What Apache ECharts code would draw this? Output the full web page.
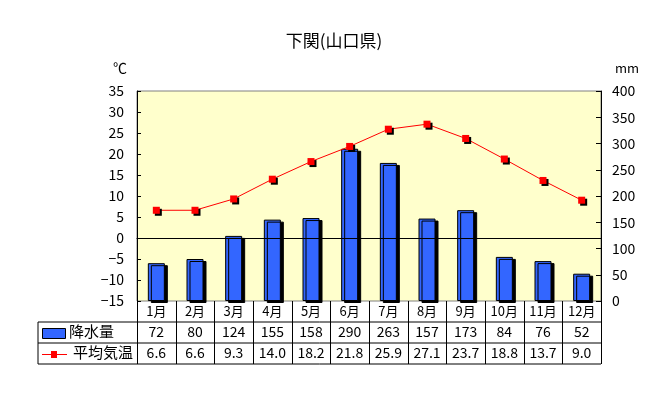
<!DOCTYPE html>
<html>
<head>
<meta charset="utf-8">
<script src="https://cdn.jsdelivr.net/npm/echarts@6/dist/echarts.min.js"></script>
<style>
  html, body { margin: 0; padding: 0; background: #fff; }
  #chart { width: 653px; height: 399px; }
</style>
</head>
<body>
<div id="chart"></div>
<script>
// data
const months = ['1月', '2月', '3月', '4月', '5月', '6月', '7月', '8月', '9月', '10月', '11月', '12月'];
const rain = [72, 80, 124, 155, 158, 290, 263, 157, 173, 84, 76, 52];
const temp = [6.6, 6.6, 9.3, 14.0, 18.2, 21.8, 25.9, 27.1, 23.7, 18.8, 13.7, 9.0];

const FONT = '"Noto Sans CJK JP", sans-serif';
const G = { left: 137, top: 91, width: 464, height: 210 };
const rowH = 21;
const tableLeft = 38;

const chart = echarts.init(document.getElementById('chart'));

const line = (x1, y1, x2, y2, color) => ({
  type: 'line', silent: true,
  shape: { x1: x1, y1: y1, x2: x2, y2: y2 },
  style: { stroke: color || '#000', lineWidth: 1 }
});

const bottom = G.top + G.height;
const right = G.left + G.width;

const catAxis = (data, offset, extra) => Object.assign({
  type: 'category',
  data: data,
  position: 'bottom',
  offset: offset,
  axisLine: { show: false },
  axisTick: { show: false },
  axisLabel: { color: '#000', fontSize: 14, fontFamily: FONT, margin: 3, interval: 0 },
  splitLine: { show: false }
}, extra || {});

// table grid lines
const tableLines = [
  line(tableLeft, bottom + rowH, right, bottom + rowH),
  line(tableLeft, bottom + rowH * 2, right, bottom + rowH * 2),
  line(tableLeft, bottom + rowH * 3, right, bottom + rowH * 3),
  line(tableLeft, bottom + rowH, tableLeft, bottom + rowH * 3)
];
for (let i = 0; i <= months.length; i++) {
  const x = Math.round(G.left + i * G.width / months.length) + 0.5;
  tableLines.push(line(x, bottom, x, bottom + rowH * 3));
}

chart.setOption({
  animation: false,
  title: {
    text: '下関(山口県)',
    left: 329, top: 27, textAlign: 'center',
    textStyle: { fontSize: 17, fontWeight: 'normal', color: '#000', fontFamily: FONT }
  },
  grid: {
    left: G.left, top: G.top, width: G.width, height: G.height,
    show: true, backgroundColor: '#FFFFCC', borderColor: '#808080', borderWidth: 1
  },
  xAxis: [
    catAxis(months, 0, {
      axisLine: { show: true, lineStyle: { color: '#000', width: 1 } },
      axisLabel: { color: '#000', fontSize: 13, fontFamily: FONT, margin: 4, interval: 0 }
    }),
    catAxis(rain.map(String), rowH),
    catAxis(temp.map(v => v.toFixed(1)), rowH * 2)
  ],
  yAxis: [
    {
      type: 'value', min: -15, max: 35, interval: 5,
      name: '℃', nameLocation: 'end', nameGap: 16,
      nameTextStyle: { color: '#000', fontSize: 14, fontFamily: FONT, align: 'right', padding: [0, 10, 0, 0] },
      axisLine: { show: true, lineStyle: { color: '#000' } },
      axisTick: { show: true, inside: true, length: 4, lineStyle: { color: '#000' } },
      axisLabel: { color: '#000', fontSize: 14, fontFamily: FONT, margin: 13,
        formatter: v => String(v).replace('-', '−') },
      splitLine: { show: false }
    },
    {
      type: 'value', min: 0, max: 400, interval: 50, position: 'right',
      name: 'mm', nameLocation: 'end', nameGap: 16,
      nameTextStyle: { color: '#000', fontSize: 13, fontFamily: FONT, align: 'left', padding: [0, 0, 0, 14] },
      axisLine: { show: true, lineStyle: { color: '#000' } },
      axisTick: { show: true, inside: true, length: 5, lineStyle: { color: '#000' } },
      axisLabel: { color: '#000', fontSize: 14, fontFamily: FONT, margin: 11 },
      splitLine: { show: false }
    }
  ],
  series: [
    {
      name: '降水量', type: 'bar', yAxisIndex: 1, data: rain,
      barWidth: 17,
      itemStyle: {
        color: '#3366FF', borderColor: '#000', borderWidth: 1,
        shadowColor: '#000', shadowBlur: 0, shadowOffsetX: 3, shadowOffsetY: 2
      }
    },
    {
      name: '平均気温', type: 'line', yAxisIndex: 0, data: temp,
      symbol: 'rect', symbolSize: 7,
      lineStyle: { color: '#FF0000', width: 1 },
      itemStyle: {
        color: '#FF0000', borderWidth: 0,
        shadowColor: '#000', shadowBlur: 0, shadowOffsetX: 2, shadowOffsetY: 2
      },
      markLine: {
        silent: true, symbol: 'none', label: { show: false },
        lineStyle: { color: '#000', width: 1, type: 'solid' },
        data: [{ yAxis: 0 }]
      },
      z: 3
    }
  ],
  graphic: tableLines.concat([
    // legend keys inside the table
    {
      type: 'rect', silent: true,
      shape: { x: 42.5, y: bottom + rowH + 6.5, width: 23, height: 10 },
      style: { fill: '#3366FF', stroke: '#000', lineWidth: 1 }
    },
    {
      type: 'text', silent: true, left: 69, top: bottom + rowH + 2,
      style: { text: '降水量', fill: '#000', fontSize: 15, fontFamily: FONT }
    },
    line(42, bottom + rowH * 2 + 11.5, 67, bottom + rowH * 2 + 11.5, '#FF0000'),
    {
      type: 'rect', silent: true,
      shape: { x: 51, y: bottom + rowH * 2 + 8, width: 6, height: 7 },
      style: { fill: '#FF0000' }
    },
    {
      type: 'text', silent: true, left: 73, top: bottom + rowH * 2 + 2,
      style: { text: '平均気温', fill: '#000', fontSize: 15, fontFamily: FONT }
    }
  ])
});
</script>
</body>
</html>
